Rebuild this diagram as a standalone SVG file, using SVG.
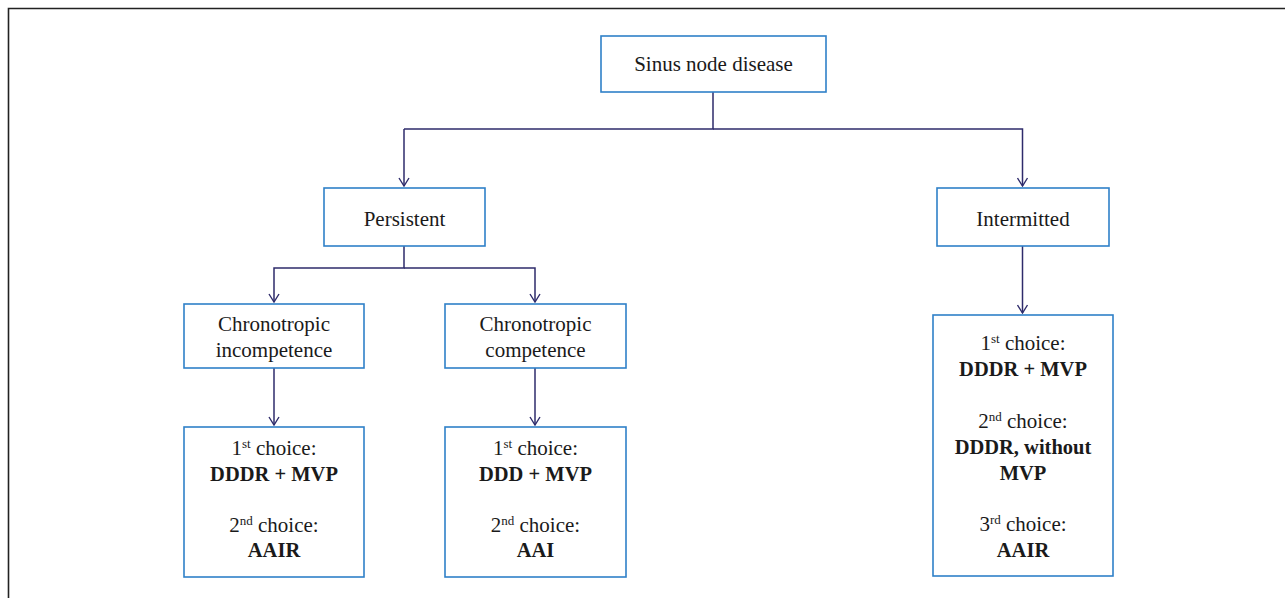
<svg xmlns="http://www.w3.org/2000/svg" width="1285" height="598" viewBox="0 0 1285 598">
<style>
.box{fill:#fff;stroke:#2f80c8;stroke-width:1.6}
.t{font-family:"Liberation Serif","Times New Roman",serif;font-size:21px;fill:#1a1a1a;text-anchor:middle}
.b{font-weight:bold;font-size:20.5px}
.sup{font-size:13px}
.c{fill:none;stroke:#2e2b6b;stroke-width:1.5}
.frame{stroke:#222;stroke-width:1.6;fill:none}
</style>
<defs>
<marker id="arr" viewBox="0 0 10 12" refX="9" refY="6" markerWidth="10" markerHeight="12" markerUnits="userSpaceOnUse" orient="auto">
<path d="M1,1 L9,6 L1,11" fill="none" stroke="#2e2b6b" stroke-width="1.4"/>
</marker>
</defs>
<rect width="1285" height="598" fill="#fff"/>
<path class="frame" d="M8.5,598 V8.5 H1285"/>
<g id="connectors">
<path class="c" d="M713,92 V129 H404"/>
<path class="c" d="M713,129 H1022.5 V186" marker-end="url(#arr)"/>
<path class="c" d="M404,129 V186" marker-end="url(#arr)"/>
<path class="c" d="M404,246 V268 H274 V302" marker-end="url(#arr)"/>
<path class="c" d="M404,268 H535 V302" marker-end="url(#arr)"/>
<path class="c" d="M274,368 V425" marker-end="url(#arr)"/>
<path class="c" d="M535,368 V425" marker-end="url(#arr)"/>
<path class="c" d="M1022.5,246 V313" marker-end="url(#arr)"/>
</g>
<g id="sinus">
<rect class="box" x="601" y="36" width="225" height="56"/>
<text class="t" x="713.5" y="71">Sinus node disease</text>
</g>
<g id="persistent">
<rect class="box" x="324" y="188" width="161" height="58"/>
<text class="t" x="404.5" y="226">Persistent</text>
</g>
<g id="intermitted">
<rect class="box" x="937" y="188" width="172" height="58"/>
<text class="t" x="1023" y="226">Intermitted</text>
</g>
<g id="chrono-incompetence">
<rect class="box" x="184" y="304" width="180" height="64"/>
<text class="t" x="274" y="331">Chronotropic</text>
<text class="t" x="274" y="357">incompetence</text>
</g>
<g id="chrono-competence">
<rect class="box" x="445" y="304" width="181" height="64"/>
<text class="t" x="535.5" y="331">Chronotropic</text>
<text class="t" x="535.5" y="357">competence</text>
</g>
<g id="choice-incompetence">
<rect class="box" x="184" y="427" width="180" height="150"/>
<text class="t" x="274" y="455">1<tspan class="sup" dy="-7">st</tspan><tspan dy="7"> choice:</tspan></text>
<text class="t b" x="274" y="481">DDDR + MVP</text>
<text class="t" x="274" y="532">2<tspan class="sup" dy="-7">nd</tspan><tspan dy="7"> choice:</tspan></text>
<text class="t b" x="274" y="557">AAIR</text>
</g>
<g id="choice-competence">
<rect class="box" x="445" y="427" width="181" height="150"/>
<text class="t" x="535.5" y="455">1<tspan class="sup" dy="-7">st</tspan><tspan dy="7"> choice:</tspan></text>
<text class="t b" x="535.5" y="481">DDD + MVP</text>
<text class="t" x="535.5" y="532">2<tspan class="sup" dy="-7">nd</tspan><tspan dy="7"> choice:</tspan></text>
<text class="t b" x="535.5" y="557">AAI</text>
</g>
<g id="choice-intermitted">
<rect class="box" x="933" y="315" width="180" height="261"/>
<text class="t" x="1023" y="350">1<tspan class="sup" dy="-7">st</tspan><tspan dy="7"> choice:</tspan></text>
<text class="t b" x="1023" y="376">DDDR + MVP</text>
<text class="t" x="1023" y="428">2<tspan class="sup" dy="-7">nd</tspan><tspan dy="7"> choice:</tspan></text>
<text class="t b" x="1023" y="454">DDDR, without</text>
<text class="t b" x="1023" y="480">MVP</text>
<text class="t" x="1023" y="531">3<tspan class="sup" dy="-7">rd</tspan><tspan dy="7"> choice:</tspan></text>
<text class="t b" x="1023" y="557">AAIR</text>
</g>
</svg>
